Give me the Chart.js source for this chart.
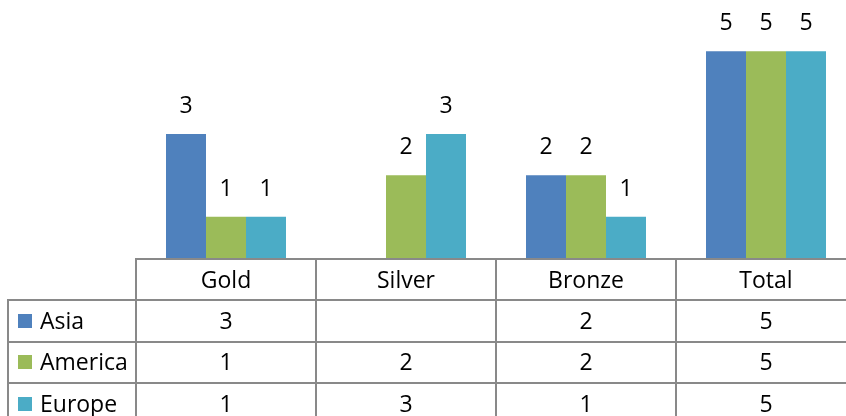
<!DOCTYPE html>
<html>
<head>
<meta charset="utf-8">
<script src="https://cdn.jsdelivr.net/npm/chart.js@4/dist/chart.umd.min.js"></script>
<style>
  html, body { margin: 0; padding: 0; background: #ffffff; overflow: hidden; }
  #wrap { width: 866px; height: 430px; }
</style>
</head>
<body>
<div id="wrap"><canvas id="c" width="866" height="430"></canvas></div>
<script>
const categories = ['Gold', 'Silver', 'Bronze', 'Total'];
const seriesNames = ['Asia', 'America', 'Europe'];
const asia = [3, null, 2, 5];
const america = [1, 2, 2, 5];
const europe = [1, 3, 1, 5];
const seriesValues = [asia, america, europe];
const seriesColors = ['#4F81BD', '#9BBB59', '#4BACC6'];

const FONT = '23px "Open Sans", "Liberation Sans", sans-serif';
const CAP = 0.714 * 23;

const tablePlugin = {
  id: 'dataTable',
  afterDatasetsDraw(chart) {
    const ctx = chart.ctx;
    ctx.save();
    ctx.font = FONT;
    ctx.fillStyle = '#000000';
    ctx.textAlign = 'center';
    ctx.textBaseline = 'alphabetic';
    chart.data.datasets.forEach((ds, di) => {
      const meta = chart.getDatasetMeta(di);
      meta.data.forEach((bar, i) => {
        const v = ds.data[i];
        if (v === null || v === undefined) return;
        ctx.fillText(String(v), bar.x, bar.y - 21);
      });
    });
    ctx.restore();
  },
  afterDraw(chart) {
    const ctx = chart.ctx;
    const ca = chart.chartArea;
    const xs = chart.scales.x;
    const n = categories.length;
    const colW = (ca.right - ca.left) / n;
    const top = ca.bottom + 1;
    const headerH = 41;
    const rowH = 41.5;
    const legendLeft = 8;
    const nRows = seriesNames.length;
    const bottom = top + headerH + rowH * nRows;

    ctx.save();
    ctx.strokeStyle = '#898989';
    ctx.lineWidth = 2;
    ctx.beginPath();
    ctx.moveTo(ca.left - 1, top); ctx.lineTo(ca.right + 1, top);
    for (let r = 0; r <= nRows; r++) {
      const y = Math.round(top + headerH + rowH * r);
      ctx.moveTo(legendLeft - 1, y); ctx.lineTo(ca.right + 1, y);
    }
    for (let c = 0; c <= n; c++) {
      const x = ca.left + colW * c;
      ctx.moveTo(x, top); ctx.lineTo(x, bottom);
    }
    ctx.moveTo(legendLeft, top + headerH); ctx.lineTo(legendLeft, bottom);
    ctx.stroke();

    ctx.font = FONT;
    ctx.fillStyle = '#000000';
    ctx.textBaseline = 'alphabetic';
    ctx.textAlign = 'center';
    categories.forEach((cat, i) => {
      const cx = xs.getPixelForValue(i);
      ctx.fillText(cat, cx, top + headerH / 2 + CAP / 2);
    });
    seriesNames.forEach((name, r) => {
      const cy = top + headerH + rowH * r + rowH / 2;
      const vals = seriesValues[r];
      ctx.textAlign = 'center';
      vals.forEach((v, i) => {
        if (v === null || v === undefined) return;
        ctx.fillText(String(v), xs.getPixelForValue(i), cy + CAP / 2);
      });
      ctx.fillStyle = seriesColors[r];
      ctx.fillRect(18, Math.round(cy - 7), 14, 14);
      ctx.fillStyle = '#000000';
      ctx.textAlign = 'left';
      ctx.fillText(name, 40, cy + CAP / 2);
    });
    ctx.restore();
  }
};

new Chart(document.getElementById('c'), {
  type: 'bar',
  data: {
    labels: categories,
    datasets: seriesNames.map((name, i) => ({
      label: name,
      data: seriesValues[i],
      backgroundColor: seriesColors[i],
      borderWidth: 0,
      categoryPercentage: 2 / 3,
      barPercentage: 1
    }))
  },
  options: {
    responsive: false,
    animation: false,
    layout: { padding: { left: 136, right: 10, top: 10, bottom: 172 } },
    plugins: { legend: { display: false }, tooltip: { enabled: false } },
    scales: {
      x: { display: false },
      y: { display: false, min: 0, max: 6 }
    }
  },
  plugins: [tablePlugin]
});
</script>
</body>
</html>
